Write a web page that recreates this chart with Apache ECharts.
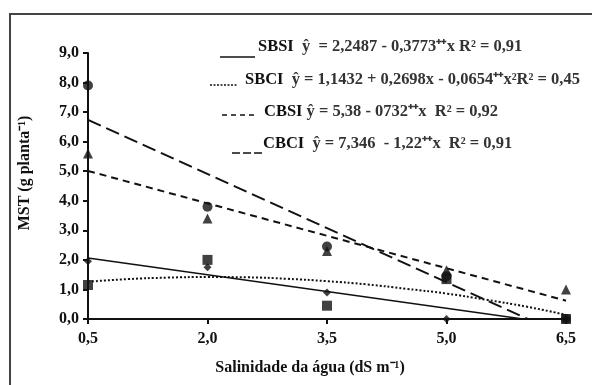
<!DOCTYPE html>
<html>
<head>
<meta charset="utf-8">
<style>
  html, body { margin: 0; padding: 0; background: #fff; }
  #chart { width: 592px; height: 385px; }
</style>
<script src="https://cdn.jsdelivr.net/npm/echarts@6/dist/echarts.min.js"></script>
</head>
<body>
<div id="chart"></div>
<script>
  // salinity levels (dS m-1)
  var xValues = [0.5, 2.0, 3.5, 5.0, 6.5];
  var xTicks = ['0,5', '2,0', '3,5', '5,0', '6,5'];

  // observed MST
  var sbsiObs = [1.95, 1.75, 0.9, 0.0, 0.0];
  var sbciObs = [1.15, 2.0, 0.45, 1.35, 0.0];
  var cbsiObs = [5.6, 3.4, 2.3, 1.65, 1.0];
  var cbciObs = [7.9, 3.8, 2.45, 1.45, 0.0];

  // fitted curves
  var sbsiFit = [[0.5, 2.06], [5.96, 0]];
  var cbsiFit = [[0.5, 5.01], [6.5, 0.62]];
  var cbciFit = [[0.5, 6.74], [6.02, 0]];
  var sbciFitX = [0.5, 1.0, 1.5, 2.0, 2.5, 3.0, 3.5, 4.0, 4.5, 5.0, 5.5, 6.0, 6.5];
  var sbciFitY = [1.26, 1.35, 1.40, 1.42, 1.41, 1.36, 1.28, 1.17, 1.02, 0.86, 0.65, 0.42, 0.14];

  var ink = '#111';
  var serif = '"Liberation Serif", "Times New Roman", serif';

  function pairs(xs, ys) {
    return xs.map(function (x, i) { return [x, ys[i]]; });
  }

  function fitLine(name, data, type, width, smooth) {
    return {
      name: name,
      type: 'line',
      data: data,
      smooth: smooth || false,
      showSymbol: false,
      silent: true,
      z: 2,
      lineStyle: { color: ink, width: width, type: type }
    };
  }

  function obs(name, ys, symbol, size) {
    return {
      name: name,
      type: 'scatter',
      data: pairs(xValues, ys),
      symbol: symbol,
      symbolSize: size,
      z: 3,
      itemStyle: { color: ink }
    };
  }

  var rich = {
    b: { fontFamily: serif, fontWeight: 'bold', fontSize: 16, fill: ink },
    n: { fontFamily: serif, fontWeight: 'bold', fontSize: 16, fill: '#333' }
  };

  function legendText(x, y, label, eq) {
    return {
      type: 'text',
      x: x,
      y: y,
      scaleX: 1.03,
      style: {
        text: '{b|' + label + '}{n|' + eq + '}',
        rich: rich,
        fill: ink,
        verticalAlign: 'middle'
      }
    };
  }

  function legendLine(x1, x2, y, dash, width) {
    return {
      type: 'line',
      shape: { x1: x1, y1: y, x2: x2, y2: y },
      style: { stroke: ink, lineWidth: width, lineDash: dash }
    };
  }

  var chart = echarts.init(document.getElementById('chart'));
  chart.setOption({
    backgroundColor: '#fff',
    animation: false,
    grid: { left: 88, right: 26, top: 53, bottom: 66 },
    xAxis: {
      type: 'value',
      min: 0.5,
      max: 6.5,
      interval: 1.5,
      name: 'Salinidade da água (dS m⁻¹)',
      nameLocation: 'middle',
      nameGap: 41,
      nameTextStyle: { fontFamily: serif, fontWeight: 'bold', fontSize: 16, color: ink, padding: [0, 34, 0, 0] },
      axisLine: { lineStyle: { color: ink, width: 2 } },
      axisTick: { show: true, length: 5, lineStyle: { color: ink, width: 2 } },
      axisLabel: {
        fontFamily: serif, fontWeight: 'bold', fontSize: 16, color: ink, margin: 12,
        formatter: function (v) { return xTicks[xValues.indexOf(Math.round(v * 10) / 10)] || ''; }
      },
      splitLine: { show: false }
    },
    yAxis: {
      type: 'value',
      min: 0,
      max: 9,
      interval: 1,
      name: 'MST (g planta⁻¹)',
      nameLocation: 'middle',
      nameGap: 55,
      nameTextStyle: { fontFamily: serif, fontWeight: 'bold', fontSize: 16, color: ink, padding: [0, 0, 0, 26] },
      axisLine: { show: true, lineStyle: { color: ink, width: 2 } },
      axisTick: { show: true, length: 5, lineStyle: { color: ink, width: 2 } },
      axisLabel: {
        fontFamily: serif, fontWeight: 'bold', fontSize: 16, color: ink, margin: 9,
        formatter: function (v) { return v.toFixed(1).replace('.', ','); }
      },
      splitLine: { show: false }
    },
    graphic: [
      // frame (top and left edges)
      { type: 'line', shape: { x1: 9, y1: 14, x2: 592, y2: 14 }, style: { stroke: '#444', lineWidth: 2 } },
      { type: 'line', shape: { x1: 10, y1: 14, x2: 10, y2: 385 }, style: { stroke: '#444', lineWidth: 2 } },
      // legend samples
      legendLine(220, 255, 57, null, 1.5),
      legendLine(210, 238, 85, [2, 1.5], 1.5),
      legendLine(222, 255, 115, [5, 4], 1.5),
      legendLine(232, 262, 153, [8, 3], 1.5),
      legendText(258, 47, 'SBSI', '  ŷ  = 2,2487 - 0,3773⁺⁺x R² = 0,91'),
      legendText(245, 80, 'SBCI', '  ŷ = 1,1432 + 0,2698x - 0,0654⁺⁺x²R² = 0,45'),
      legendText(264, 112, 'CBSI', ' ŷ = 5,38 - 0732⁺⁺x  R² = 0,92'),
      legendText(263, 144, 'CBCI', '  ŷ = 7,346  - 1,22⁺⁺x  R² = 0,91')
    ],
    series: [
      fitLine('SBSI', sbsiFit, 'solid', 1.5),
      fitLine('SBCI', pairs(sbciFitX, sbciFitY), [2, 2], 2, true),
      fitLine('CBSI', cbsiFit, [7, 5], 2),
      fitLine('CBCI', cbciFit, [14, 6], 2),
      obs('SBSI', sbsiObs, 'diamond', 8),
      obs('SBCI', sbciObs, 'rect', 10),
      obs('CBSI', cbsiObs, 'triangle', 10),
      obs('CBCI', cbciObs, 'circle', 10)
    ]
  });
</script>
</body>
</html>
